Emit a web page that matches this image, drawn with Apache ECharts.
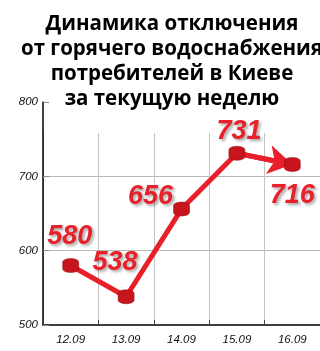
<!DOCTYPE html>
<html><head><meta charset="utf-8">
<script src="https://cdn.jsdelivr.net/npm/echarts@6/dist/echarts.min.js"></script>
<style>html,body{margin:0;padding:0;background:#fff}#c{width:320px;height:351px}</style>
</head><body><div id="c"></div>
<script>
var titleText = 'Динамика отключения\nот горячего водоснабжения\nпотребителей в Киеве\nза текущую неделю';
var categories = ['12.09', '13.09', '14.09', '15.09', '16.09'];
var values = [580, 538, 656, 731, 716];
var yTicks = [500, 600, 700, 800];
var labelPos = [
  [-1, -29], [-11, -34], [-31, -12], [2, -22], [0, 31]
];
var red = '#e8202a';
var cond = "'Liberation Sans Narrow','Liberation Sans',sans-serif";
var chart = echarts.init(document.getElementById('c'), null, {renderer: 'canvas'});
chart.setOption({
  animation: false,
  title: {
    text: titleText, left: 167, top: 7, textAlign: 'center',
    textStyle: {fontFamily: "'Open Sans',sans-serif", fontWeight: 'bold', fontSize: 20.5, lineHeight: 25, color: '#000'}
  },
  grid: [
    {left: 43, right: 0, top: 102, bottom: 26},
    {left: 43, right: 0, top: 133, bottom: 26}
  ],
  xAxis: [
    {type: 'category', data: categories, gridIndex: 0,
     axisLine: {lineStyle: {color: '#000', width: 1.5}},
     axisTick: {show: true, inside: true, length: 5, lineStyle: {color: '#444'}},
     axisLabel: {color: '#111', fontStyle: 'italic', fontFamily: cond, fontSize: 11.5, margin: 9},
     splitLine: {show: false}},
    {type: 'category', data: categories, gridIndex: 1,
     axisLine: {show: false}, axisTick: {show: false}, axisLabel: {show: false},
     splitLine: {show: true, lineStyle: {color: '#c4c4c4', width: 1}}}
  ],
  yAxis: [
    {type: 'value', min: yTicks[0], max: yTicks[yTicks.length - 1], interval: 100, gridIndex: 0,
     axisLine: {show: true, lineStyle: {color: '#000', width: 1.5}},
     axisTick: {show: true, inside: true, length: 6, lineStyle: {color: '#888'}},
     axisLabel: {color: '#111', fontStyle: 'italic', fontFamily: cond, fontSize: 11.5, margin: 5},
     splitLine: {show: true, lineStyle: {color: ['transparent', '#b8b8b8', '#b8b8b8', 'transparent'], width: 1}}},
    {type: 'value', gridIndex: 1, show: false, min: 0, max: 1}
  ],
  series: [{
    type: 'line', xAxisIndex: 0, yAxisIndex: 0,
    data: values.map(function (v, i) {
      return {value: v, label: {offset: labelPos[i]}};
    }),
    lineStyle: {color: red, width: 5},
    symbol: 'path://M0,3 A7,3 0 0,1 14,3 L14,9 A7,3 0 0,1 0,9 Z',
    symbolSize: [16, 14],
    itemStyle: {color: '#c8141d', borderColor: '#8e0a10', borderWidth: 0.5},
    z: 5,
    label: {
      show: true, position: 'inside', color: red, fontFamily: cond, fontWeight: 'bold', fontStyle: 'italic',
      fontSize: 27, textShadowColor: 'rgba(0,0,0,0.35)', textShadowBlur: 3, textShadowOffsetX: 2, textShadowOffsetY: 2
    },
    markLine: {
      silent: true, symbol: ['none', 'arrow'], symbolSize: [22, 24],
      label: {show: false},
      lineStyle: {color: red, width: 5, type: 'solid'},
      data: [[{xAxis: categories[3], yAxis: values[3]}, {xAxis: categories[4], yAxis: values[4]}]]
    }
  }]
});
</script></body></html>
